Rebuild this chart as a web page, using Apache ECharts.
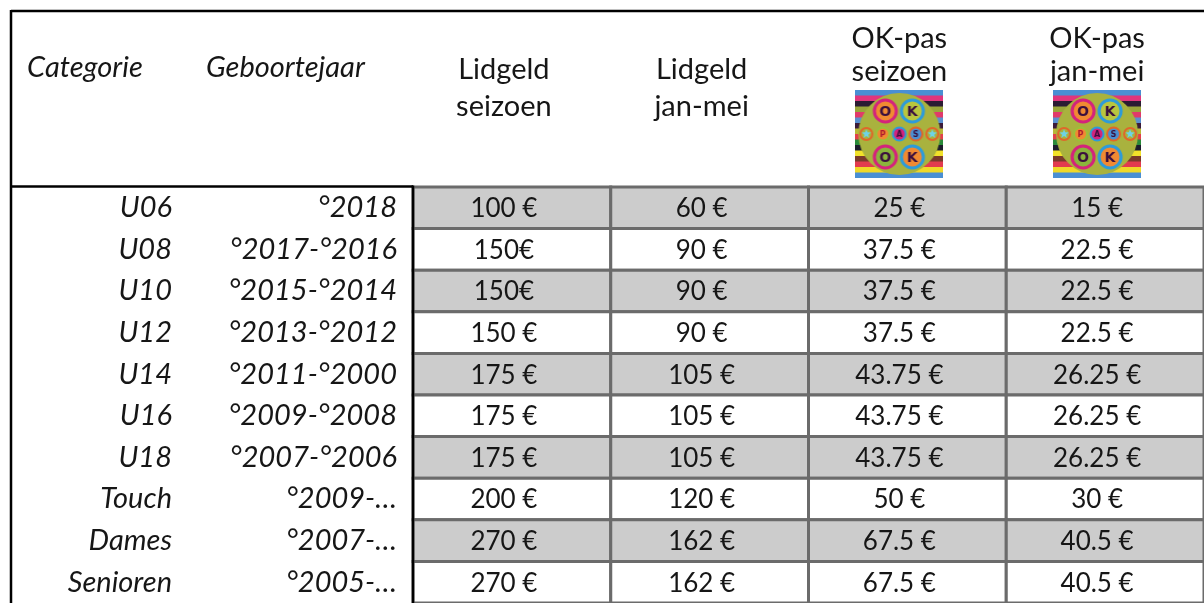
<!DOCTYPE html>
<html><head><meta charset="utf-8">
<script src="https://cdn.jsdelivr.net/npm/echarts@6/dist/echarts.min.js"></script>
<style>html,body{margin:0;padding:0;background:#fff}#c{width:1204px;height:603px}</style>
</head><body><div id="c"></div>
<script>
// ---- data ----
const categories = ['U06','U08','U10','U12','U14','U16','U18','Touch','Dames','Senioren'];
const birthYears = ['°2018','°2017-°2016','°2015-°2014','°2013-°2012','°2011-°2000','°2009-°2008','°2007-°2006','°2009-…','°2007-…','°2005-…'];
const colHeaders = ['Lidgeld\nseizoen','Lidgeld\njan-mei','OK-pas\nseizoen','OK-pas\njan-mei'];
const lidgeldSeizoen = [100,150,150,150,175,175,175,200,270,270];
const lidgeldJanMei  = [60,90,90,90,105,105,105,120,162,162];
const okpasSeizoen   = [25,37.5,37.5,37.5,43.75,43.75,43.75,50,67.5,67.5];
const okpasJanMei    = [15,22.5,22.5,22.5,26.25,26.25,26.25,30,40.5,40.5];
const headerLeft = ['Categorie','Geboortejaar'];
// cells written without a space before the euro sign: [column, row]
const tightEuroCells = [[0,1],[0,2]];

const columns = [lidgeldSeizoen, lidgeldJanMei, okpasSeizoen, okpasJanMei];
const cellData = [];
columns.forEach((col, c) => col.forEach((v, r) => cellData.push([c, r, v])));

const FONT = 'Lato, "Open Sans", sans-serif';
const TXT = '#161616';
const HFS = 29;   // header / label font size
const DFS = 26;   // cell font size

function cellText(c, r, v){
  const tight = tightEuroCells.some(t => t[0] === c && t[1] === r);
  return String(v) + (tight ? '€' : ' €');
}

// ---- OK-pas logo drawn on a canvas ----
function makeLogo(){
  const S = 88, cv = document.createElement('canvas');
  cv.width = S; cv.height = S;
  const g = cv.getContext('2d');
  const stripes = ['#4a8fd3','#e0357c','#2b1b33','#9aa63a','#e13a6a','#5a90d0','#3a1a3a','#b8b838',
                   '#e2404a','#2a8a3a','#1c1c2c','#f2e22a','#7a3a2a','#e23b4e','#f0d828','#4a8fd3'];
  const h = S / stripes.length;
  stripes.forEach((col, i) => { g.fillStyle = col; g.fillRect(0, i*h, S, h + 0.5); });
  g.fillStyle = '#a9b23e';
  g.beginPath(); g.arc(44, 44, 41, 0, Math.PI*2); g.fill();
  function disc(x, y, r, ring, fill, letter, lc, fs){
    g.beginPath(); g.arc(x, y, r, 0, Math.PI*2); g.fillStyle = fill; g.fill();
    g.lineWidth = Math.max(2, r*0.28); g.strokeStyle = ring; g.stroke();
    if (letter === '*'){
      g.fillStyle = lc; g.beginPath();
      for (let k = 0; k < 10; k++){
        const a = -Math.PI/2 + k*Math.PI/5, rr = k%2 ? r*0.35 : r*0.8;
        g.lineTo(x + rr*Math.cos(a), y + rr*Math.sin(a));
      }
      g.closePath(); g.fill();
    } else {
      g.fillStyle = lc; g.font = 'bold ' + fs + 'px "DejaVu Sans"';
      g.textAlign = 'center'; g.textBaseline = 'middle';
      g.fillText(letter, x, y + 1);
    }
  }
  disc(30, 21, 11, '#d4237c', '#f08a32', 'O', '#3a0f3e', 14);
  disc(57, 21, 11, '#2e9bd9', '#b9c63e', 'K', '#3a0f3e', 14);
  disc(11, 44, 6, '#e0672a', '#a9b23e', '*', '#6fd3e6', 8);
  disc(27.5, 44, 6.5, '#9ac23a', '#f08a32', 'P', '#b0182e', 8);
  disc(44, 44, 6.5, '#2e9bd9', '#d4237c', 'A', '#3a0f3e', 8);
  disc(60.5, 44, 6.5, '#e0672a', '#4a8fd3', 'S', '#3a0f3e', 8);
  disc(77, 44, 6, '#e0672a', '#a9b23e', '*', '#6fd3e6', 8);
  disc(30, 67, 11, '#d4237c', '#8bb43c', 'O', '#3a0f3e', 14);
  disc(57, 67, 11, '#2e9bd9', '#f08a32', 'K', '#3a0f3e', 14);
  return cv;
}
const logo = makeLogo();

function renderItem(params, api){
  const c = api.value(0), r = api.value(1), v = api.value(2);
  const p = api.coord([c, r]);
  const s = api.size([1, 1]);
  return {
    type: 'group',
    children: [
      { type: 'rect', shape: { x: p[0]-s[0]/2, y: p[1]-s[1]/2, width: s[0], height: s[1] },
        style: { fill: r % 2 === 0 ? '#cccccc' : '#ffffff', stroke: '#6b6b6b', lineWidth: 3 } },
      { type: 'text', z2: 10,
        style: { x: p[0]-8, y: p[1]+1, text: cellText(c, r, v), align: 'center', verticalAlign: 'middle',
                 fontSize: DFS, fontFamily: FONT, fill: TXT } }
    ]
  };
}

const chart = echarts.init(document.getElementById('c'), null, { renderer: 'canvas' });
chart.setOption({
  animation: false,
  backgroundColor: '#ffffff',
  grid: { left: 413, right: -1, top: 187, bottom: -4, containLabel: false },
  xAxis: {
    type: 'category', position: 'top', data: colHeaders,
    axisLine: { show: false }, axisTick: { show: false }, splitLine: { show: false },
    axisLabel: {
      interval: 0, margin: 7, padding: [0, 16, 0, 0],
      formatter: (v, i) => {
        const [l1, l2] = v.split('\n');
        return i < 2 ? `{a|${l1}}\n{a|${l2}}\n{gap| }` : `{b|${l1}}\n{b|${l2}}\n{img| }`;
      },
      rich: {
        a: { fontSize: HFS, lineHeight: 37, fontFamily: FONT, color: TXT, align: 'center' },
        b: { fontSize: HFS, lineHeight: 33, fontFamily: FONT, color: TXT, align: 'center' },
        gap: { fontSize: 10, lineHeight: 55, height: 55 },
        img: { width: 88, height: 88, lineHeight: 92, align: 'center', backgroundColor: { image: logo } }
      }
    }
  },
  yAxis: [
    { type: 'category', inverse: true, data: birthYears,
      axisLine: { show: false }, axisTick: { show: false }, splitLine: { show: false },
      axisLabel: { margin: 16, fontSize: HFS, fontStyle: 'italic', fontFamily: FONT, color: TXT } },
    { type: 'category', inverse: true, data: categories, position: 'left', offset: 225,
      axisLabel: { margin: 16, fontSize: HFS, fontStyle: 'italic', fontFamily: FONT, color: TXT },
      axisLine: { show: false }, axisTick: { show: false }, splitLine: { show: false } }
  ],
  series: [{
    type: 'custom', coordinateSystem: 'cartesian2d', xAxisIndex: 0, yAxisIndex: 0,
    renderItem, data: cellData, silent: true
  }],
  graphic: [
    { type: 'line', z: 100, shape: { x1: 11, y1: 11, x2: 1204, y2: 11 }, style: { stroke: '#000', lineWidth: 2.5 } },
    { type: 'line', z: 100, shape: { x1: 11, y1: 10, x2: 11, y2: 603 }, style: { stroke: '#000', lineWidth: 2.5 } },
    { type: 'line', z: 100, shape: { x1: 11, y1: 186.5, x2: 413, y2: 186.5 }, style: { stroke: '#000', lineWidth: 2.5 } },
    { type: 'line', z: 100, shape: { x1: 413, y1: 185.5, x2: 413, y2: 603 }, style: { stroke: '#000', lineWidth: 2.5 } },
    { type: 'text', z: 100, style: { x: 27, y: 68, text: headerLeft[0], fontSize: HFS, fontStyle: 'italic', fontFamily: FONT, fill: TXT, verticalAlign: 'middle' } },
    { type: 'text', z: 100, style: { x: 206, y: 68, text: headerLeft[1], fontSize: HFS, fontStyle: 'italic', fontFamily: FONT, fill: TXT, verticalAlign: 'middle' } }
  ]
});
</script>
</body></html>
